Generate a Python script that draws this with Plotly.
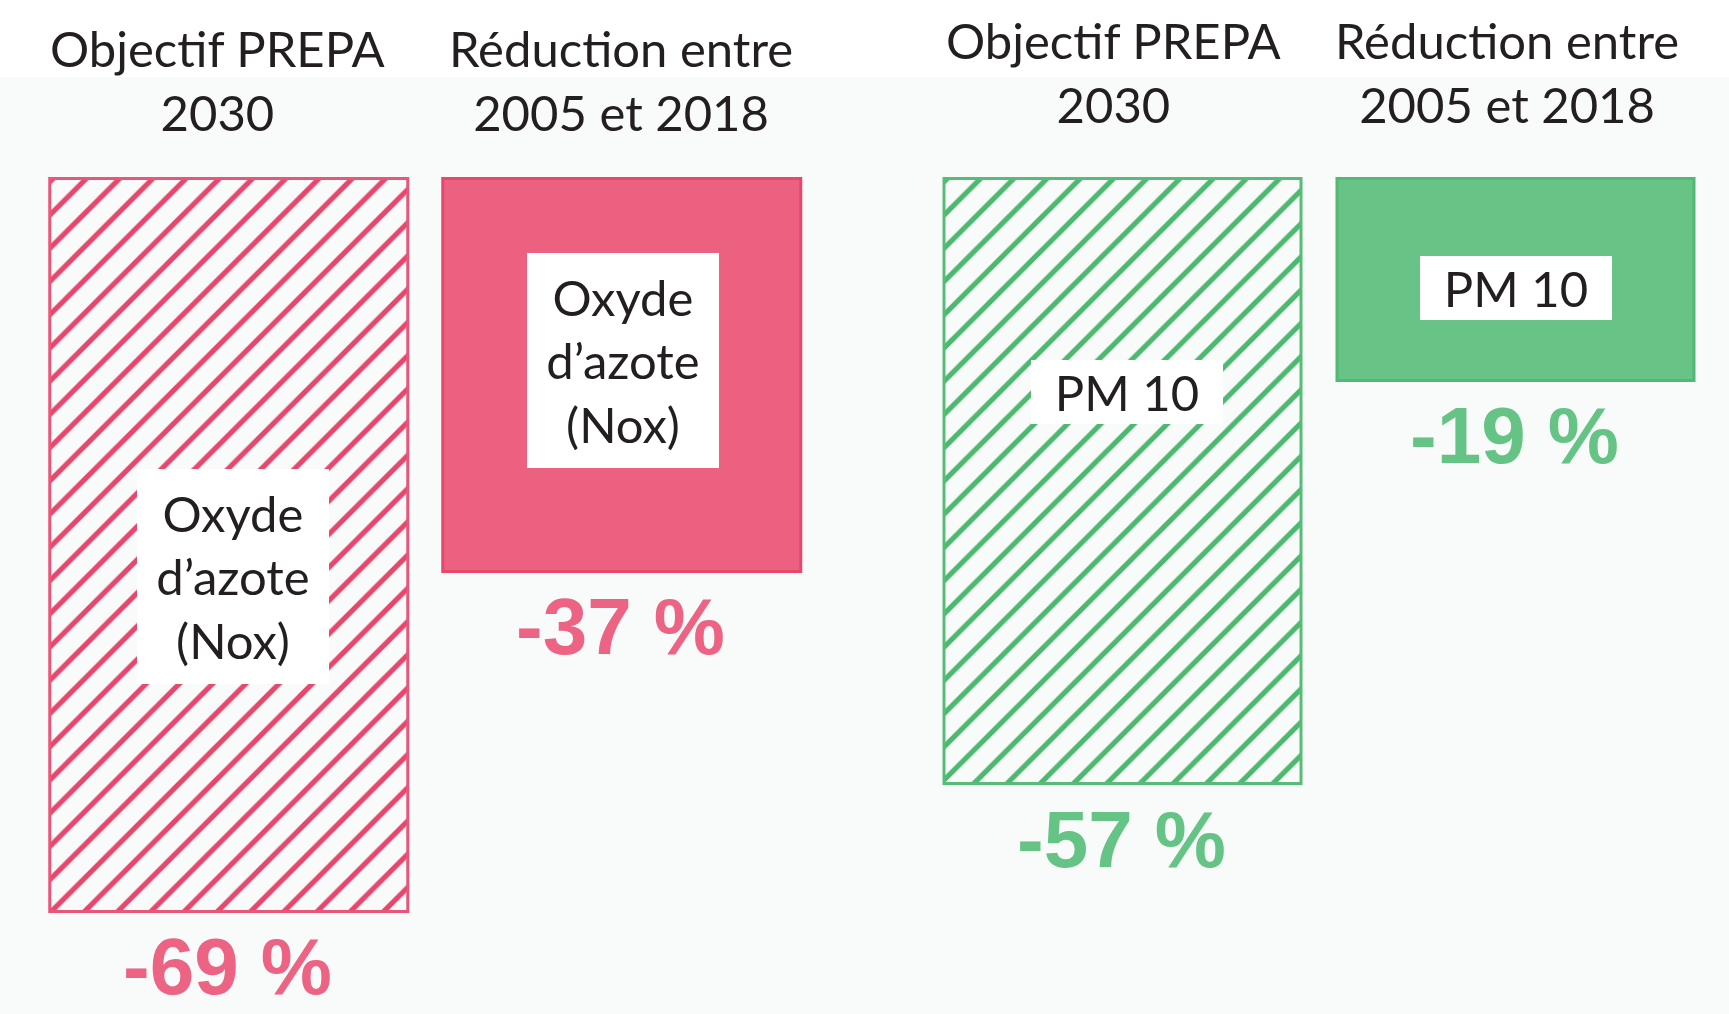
import plotly.graph_objects as go

# ---------------- data ----------------
periods = ["Objectif PREPA<br>2030", "Réduction entre<br>2005 et 2018"]
pollutants = ["Oxyde<br>d’azote<br>(Nox)", "PM 10"]
nox_values = [-69, -37]
pm10_values = [-57, -19]

# ---------------- styles / layout ----------------
BG = "#F9FBFB"
TEXT = "#231F20"
HEAD_FONT = "Lato, 'Noto Sans', sans-serif"
VAL_FONT = "'Liberation Sans', Arial, sans-serif"

panels = [
    dict(values=nox_values, label=pollutants[0], xref="x", yref="y",
         fill="#EC6080", line="#E8476C", hatch="#E8466D", hatch_line="#EA5679",
         text="#EC6384", box_frac=[0.542, 0.461], box_h=215,
         head_y=[0.921, 0.921], head_shift=[-11, -2]),
    dict(values=pm10_values, label=pollutants[1], xref="x2", yref="y2",
         fill="#67C386", line="#52B874", hatch="#4DB870", hatch_line="#58BC79",
         text="#66C386", box_frac=[0.351, 0.539], box_h=64,
         head_y=[0.929, 0.929], head_shift=[-9, -9]),
]

fig = go.Figure()
annotations = []
for i, p in enumerate(panels):
    xa = "x" if i == 0 else "x2"
    ya = "y" if i == 0 else "y2"
    # hatched bar (objective)
    fig.add_trace(go.Bar(
        x=[periods[0]], y=[p["values"][0]], xaxis=xa, yaxis=ya, width=0.91,
        marker=dict(color=BG, line=dict(color=p["hatch_line"], width=3),
                    pattern=dict(shape="/", fgcolor=p["hatch"], fgopacity=1, size=23.5,
                                 solidity=0.22, fillmode="overlay")),
        showlegend=False, hoverinfo="skip"))
    # solid bar (observed reduction)
    fig.add_trace(go.Bar(
        x=[periods[1]], y=[p["values"][1]], xaxis=xa, yaxis=ya, width=0.91,
        marker=dict(color=p["fill"], line=dict(color=p["line"], width=3)),
        showlegend=False, hoverinfo="skip"))
    for j, per in enumerate(periods):
        v = p["values"][j]
        # header
        annotations.append(dict(
            x=per, xref=p["xref"], y=p["head_y"][j], yref="paper",
            text=per, showarrow=False, xshift=p["head_shift"][j],
            xanchor="center", yanchor="middle",
            font=dict(family=HEAD_FONT, size=49, color=TEXT)))
        # value label
        annotations.append(dict(
            x=per, xref=p["xref"], y=v, yref=p["yref"],
            text=f"{v} %", showarrow=False, yshift=-55, xshift=-2,
            xanchor="center", yanchor="middle",
            font=dict(family=VAL_FONT, size=80, color=p["text"], weight="bold")))
        # pollutant label box
        annotations.append(dict(
            x=per, xref=p["xref"], y=v * p["box_frac"][j], yref=p["yref"],
            text=p["label"], showarrow=False, xshift=4 if j == 0 else 0,
            xanchor="center", yanchor="middle", align="center", valign="middle",
            width=192, height=p["box_h"], bgcolor="white", borderpad=0, borderwidth=0,
            font=dict(family=HEAD_FONT, size=49, color=TEXT)))

W, H = 1729, 1014
fig.update_layout(
    width=W, height=H, margin=dict(l=0, r=0, t=0, b=0),
    paper_bgcolor=BG, plot_bgcolor="rgba(0,0,0,0)",
    barmode="overlay", bargap=0,
    xaxis=dict(domain=[32.25 / W, 819.25 / W], range=[-0.5, 1.5], type="category", visible=False),
    xaxis2=dict(domain=[926.5 / W, 1712.5 / W], range=[-0.5, 1.5], type="category", visible=False),
    yaxis=dict(domain=[0, 1], range=[-78.62, 16.855], visible=False),
    yaxis2=dict(domain=[0, 1], range=[-78.62, 16.855], visible=False, anchor="x2"),
    annotations=annotations,
    shapes=[dict(type="rect", xref="paper", yref="paper", x0=0, x1=1, y0=1 - 77 / H, y1=1,
                 fillcolor="white", line=dict(width=0), layer="below")],
)

fig.write_html("out.html", config={"displayModeBar": False},
               post_script="document.body.style.margin='0';")
